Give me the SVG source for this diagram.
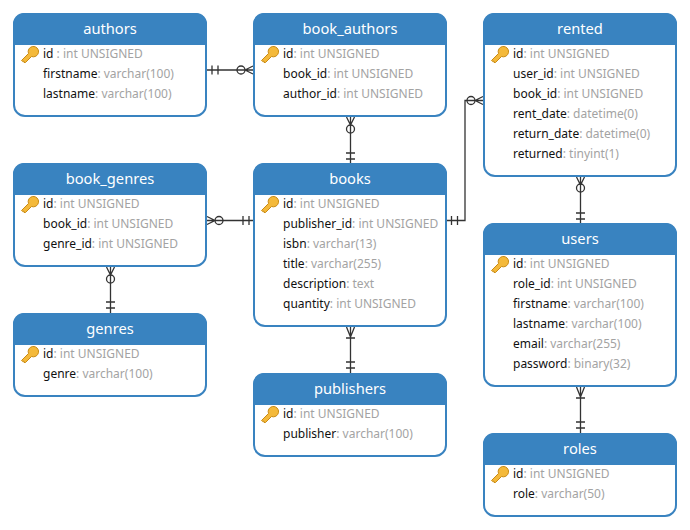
<svg xmlns="http://www.w3.org/2000/svg" width="690" height="530" viewBox="0 0 690 530">
<style>
text{font-family:"Noto Sans","Open Sans","Liberation Sans",sans-serif;font-size:12px;fill:#111}
.t{font-size:14.7px;fill:#fff;text-anchor:middle}
.g{fill:#a3a3a3}
.b{fill:#fff;stroke:#3983c0;stroke-width:2}
.h{fill:#3983c0}
.c{fill:none;stroke:#333;stroke-width:1.3}
</style>
<defs>
<symbol id="key" width="18" height="18" viewBox="0 0 18 18" overflow="visible">
<path d="M0.5 14.500 L7.500 7.500 A5.200 5.200 0 1 1 10.500 10.500 L4.500 16.500 L3 16.500 L2.800 15 L1.800 15.500 Z" fill="#f4b93a" stroke="#c98a12" stroke-width="1" stroke-linejoin="round"/>
</symbol>
</defs>
<g id="connectors">
<path class="c" d="M207 70H253M212 65.500V74.500M218 65.500V74.500M245 70L253 66M245 70L253 74"/><circle class="c" cx="241" cy="70" r="4"/>
<path class="c" d="M350.500 117V163M346 153H355M346 159H355M346.500 117L350.500 125L354.500 117"/><circle class="c" cx="350.500" cy="129" r="4"/>
<path class="c" d="M207 220.500H253M243 216V225M249 216V225M207 216.500L215 220.500L207 224.500"/><circle class="c" cx="219" cy="220.500" r="4"/>
<path class="c" d="M447 220.500H465V100.500H483M451.500 216V225M457.500 216V225M475 100.500L483 96.500M475 100.500L483 104.500"/><circle class="c" cx="471" cy="100.500" r="4"/>
<path class="c" d="M580.500 177V223M576 213H585M576 219H585M576.500 177L580.500 185L584.500 177"/><circle class="c" cx="580.500" cy="188" r="4"/>
<path class="c" d="M110.500 267V313M106 302H115M106 308H115M106.500 267L110.500 275L114.500 267"/><circle class="c" cx="110.500" cy="279" r="4"/>
<path class="c" d="M350.500 327V373M346 338H355M346 362H355M346 368H355M346.500 327L350.500 337L354.500 327"/>
<path class="c" d="M580.500 387V433M576 398H585M576 422H585M576 428H585M576.500 387L580.500 397L584.500 387"/>
</g>
<g id="authors"><rect class="b" x="14" y="14" width="192" height="102" rx="11"/><path class="h" d="M13 45V24A11 11 0 0 1 24 13H196A11 11 0 0 1 207 24V45Z"/><text class="t" x="110" y="34">authors</text><use href="#key" x="21" y="46"/><text x="43" y="58">id <tspan class="g">: int UNSIGNED</tspan></text><text x="43" y="78">firstname<tspan class="g">: varchar(100)</tspan></text><text x="43" y="98">lastname<tspan class="g">: varchar(100)</tspan></text></g>
<g id="book_authors"><rect class="b" x="254" y="14" width="192" height="102" rx="11"/><path class="h" d="M253 45V24A11 11 0 0 1 264 13H436A11 11 0 0 1 447 24V45Z"/><text class="t" x="350" y="34">book_authors</text><use href="#key" x="261" y="46"/><text x="283" y="58">id<tspan class="g">: int UNSIGNED</tspan></text><text x="283" y="78">book_id<tspan class="g">: int UNSIGNED</tspan></text><text x="283" y="98">author_id<tspan class="g">: int UNSIGNED</tspan></text></g>
<g id="rented"><rect class="b" x="484" y="14" width="192" height="162" rx="11"/><path class="h" d="M483 45V24A11 11 0 0 1 494 13H666A11 11 0 0 1 677 24V45Z"/><text class="t" x="580" y="34">rented</text><use href="#key" x="491" y="46"/><text x="513" y="58">id<tspan class="g">: int UNSIGNED</tspan></text><text x="513" y="78">user_id<tspan class="g">: int UNSIGNED</tspan></text><text x="513" y="98">book_id<tspan class="g">: int UNSIGNED</tspan></text><text x="513" y="118">rent_date<tspan class="g">: datetime(0)</tspan></text><text x="513" y="138">return_date<tspan class="g">: datetime(0)</tspan></text><text x="513" y="158">returned<tspan class="g">: tinyint(1)</tspan></text></g>
<g id="book_genres"><rect class="b" x="14" y="164" width="192" height="102" rx="11"/><path class="h" d="M13 195V174A11 11 0 0 1 24 163H196A11 11 0 0 1 207 174V195Z"/><text class="t" x="110" y="184">book_genres</text><use href="#key" x="21" y="196"/><text x="43" y="208">id<tspan class="g">: int UNSIGNED</tspan></text><text x="43" y="228">book_id<tspan class="g">: int UNSIGNED</tspan></text><text x="43" y="248">genre_id<tspan class="g">: int UNSIGNED</tspan></text></g>
<g id="books"><rect class="b" x="254" y="164" width="192" height="162" rx="11"/><path class="h" d="M253 195V174A11 11 0 0 1 264 163H436A11 11 0 0 1 447 174V195Z"/><text class="t" x="350" y="184">books</text><use href="#key" x="261" y="196"/><text x="283" y="208">id<tspan class="g">: int UNSIGNED</tspan></text><text x="283" y="228">publisher_id<tspan class="g">: int UNSIGNED</tspan></text><text x="283" y="248">isbn<tspan class="g">: varchar(13)</tspan></text><text x="283" y="268">title<tspan class="g">: varchar(255)</tspan></text><text x="283" y="288">description<tspan class="g">: text</tspan></text><text x="283" y="308">quantity<tspan class="g">: int UNSIGNED</tspan></text></g>
<g id="users"><rect class="b" x="484" y="224" width="192" height="162" rx="11"/><path class="h" d="M483 255V234A11 11 0 0 1 494 223H666A11 11 0 0 1 677 234V255Z"/><text class="t" x="580" y="244">users</text><use href="#key" x="491" y="256"/><text x="513" y="268">id<tspan class="g">: int UNSIGNED</tspan></text><text x="513" y="288">role_id<tspan class="g">: int UNSIGNED</tspan></text><text x="513" y="308">firstname<tspan class="g">: varchar(100)</tspan></text><text x="513" y="328">lastname<tspan class="g">: varchar(100)</tspan></text><text x="513" y="348">email<tspan class="g">: varchar(255)</tspan></text><text x="513" y="368">password<tspan class="g">: binary(32)</tspan></text></g>
<g id="genres"><rect class="b" x="14" y="314" width="192" height="82" rx="11"/><path class="h" d="M13 345V324A11 11 0 0 1 24 313H196A11 11 0 0 1 207 324V345Z"/><text class="t" x="110" y="334">genres</text><use href="#key" x="21" y="346"/><text x="43" y="358">id<tspan class="g">: int UNSIGNED</tspan></text><text x="43" y="378">genre<tspan class="g">: varchar(100)</tspan></text></g>
<g id="publishers"><rect class="b" x="254" y="374" width="192" height="82" rx="11"/><path class="h" d="M253 405V384A11 11 0 0 1 264 373H436A11 11 0 0 1 447 384V405Z"/><text class="t" x="350" y="394">publishers</text><use href="#key" x="261" y="406"/><text x="283" y="418">id<tspan class="g">: int UNSIGNED</tspan></text><text x="283" y="438">publisher<tspan class="g">: varchar(100)</tspan></text></g>
<g id="roles"><rect class="b" x="484" y="434" width="192" height="82" rx="11"/><path class="h" d="M483 465V444A11 11 0 0 1 494 433H666A11 11 0 0 1 677 444V465Z"/><text class="t" x="580" y="454">roles</text><use href="#key" x="491" y="466"/><text x="513" y="478">id<tspan class="g">: int UNSIGNED</tspan></text><text x="513" y="498">role<tspan class="g">: varchar(50)</tspan></text></g>
</svg>
